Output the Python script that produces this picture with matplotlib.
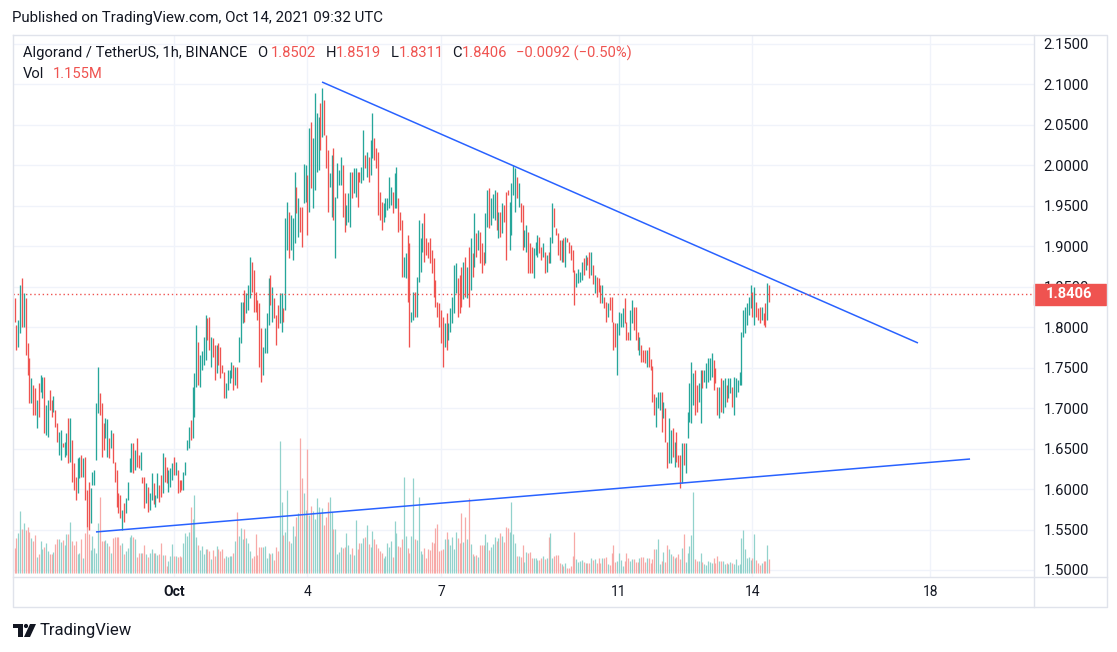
import matplotlib
matplotlib.use("Agg")
import matplotlib.pyplot as plt
import matplotlib.dates as mdates
import matplotlib.transforms as mtransforms
from matplotlib.patches import Rectangle, Circle, Polygon
import pandas as pd

plt.rcParams["font.family"] = ["Roboto", "DejaVu Sans"]

W, H = 1117, 652
UP, DOWN = "#26a69a", "#ef5350"
UP_VOL, DOWN_VOL = "#92d2cc", "#f7a9a7"
TEXT = "#131722"
GRID = "#f0f3fa"
BORDER = "#e0e3eb"
BLUE = "#2962ff"

# ALGO/USDT 1h candles (last bar Oct 14 09:00 UTC)
last_bar = "2021-10-14 09:00"
highs = [
    1.836, 1.803, 1.809, 1.852, 1.861, 1.842, 1.836, 1.781, 1.762, 1.737,
    1.729, 1.725, 1.710, 1.731, 1.741, 1.738, 1.739, 1.704, 1.710, 1.722, 1.710,
    1.715, 1.698, 1.681, 1.670, 1.673, 1.657, 1.658, 1.669, 1.688, 1.688,
    1.661, 1.632, 1.615, 1.638, 1.640, 1.642, 1.638, 1.640, 1.599, 1.609,
    1.601, 1.621, 1.624, 1.706, 1.751, 1.719, 1.706, 1.681, 1.688, 1.687,
    1.663, 1.673, 1.669, 1.633, 1.624, 1.595, 1.593, 1.574, 1.583, 1.589,
    1.609, 1.638, 1.657, 1.657, 1.648, 1.663, 1.642, 1.646, 1.615,
    1.615, 1.608, 1.603, 1.595, 1.620, 1.608, 1.593, 1.620, 1.605, 1.617, 1.645,
    1.640, 1.627, 1.624, 1.626, 1.632, 1.640, 1.633, 1.624, 1.611, 1.611,
    1.621, 1.633, 1.661, 1.677, 1.685, 1.726, 1.743, 1.803, 1.782, 1.766,
    1.770, 1.788, 1.815, 1.811, 1.813, 1.788, 1.787, 1.778, 1.778, 1.781,
    1.776, 1.753, 1.745, 1.731, 1.747, 1.747, 1.757, 1.753, 1.751, 1.751,
    1.788, 1.831, 1.831, 1.846, 1.842, 1.852, 1.887, 1.881, 1.871,
    1.844, 1.834, 1.830, 1.799, 1.776, 1.799, 1.818,
    1.861, 1.865, 1.850, 1.836, 1.815, 1.827, 1.842, 1.842, 1.824, 1.935,
    1.955, 1.942, 1.939, 1.935, 1.992, 1.973, 1.960, 1.949, 1.949, 2.002,
    2.000, 1.988, 2.046, 2.054, 2.034, 2.089, 2.065, 2.060, 2.077, 2.096,
    2.081, 2.038, 2.019, 1.991, 2.013, 2.021, 1.961, 2.003, 1.994, 2.010,
    2.000, 1.966, 1.951, 1.966, 1.992, 1.992, 1.997, 1.997, 1.992, 1.992, 1.998,
    2.044, 2.013, 2.017, 2.010, 2.031, 2.065, 2.034, 2.021, 2.017, 1.967,
    1.955, 1.954, 1.960, 1.960, 1.986,
    1.973, 1.967, 1.991, 1.998, 1.960, 1.942, 1.933, 1.887, 1.892, 1.914,
    1.904, 1.819, 1.844, 1.844, 1.862, 1.933, 1.910, 1.929, 1.941, 1.910, 1.905,
    1.910, 1.895, 1.886, 1.858, 1.831, 1.830, 1.821, 1.813, 1.805, 1.818,
    1.805, 1.824, 1.837, 1.877, 1.879, 1.861, 1.865, 1.874, 1.880, 1.887, 1.874,
    1.899, 1.910, 1.892, 1.941, 1.916, 1.920, 1.918, 1.904, 1.893, 1.941,
    1.970, 1.972, 1.960, 1.965, 1.970, 1.967, 1.942, 1.942, 1.954, 1.951, 1.967,
    1.970, 1.955, 1.978, 2.000, 1.997, 1.986, 1.978,
    1.954, 1.951, 1.920, 1.926, 1.918, 1.904, 1.899, 1.898, 1.905, 1.914,
    1.912, 1.899, 1.904, 1.893, 1.889, 1.893, 1.912, 1.954, 1.947, 1.923,
    1.916, 1.908, 1.908, 1.910, 1.912, 1.910, 1.905, 1.902, 1.895, 1.871,
    1.867, 1.872, 1.868, 1.881, 1.886, 1.889, 1.887, 1.893, 1.893, 1.877, 1.865,
    1.862, 1.861, 1.852, 1.852, 1.837, 1.831, 1.830, 1.837, 1.837, 1.806,
    1.805, 1.805, 1.819, 1.818, 1.824, 1.836, 1.806, 1.794, 1.821, 1.834,
    1.825, 1.825, 1.794, 1.788, 1.778, 1.772, 1.772, 1.772,
    1.775, 1.761, 1.752, 1.718, 1.714, 1.720, 1.720, 1.720, 1.708, 1.700,
    1.658, 1.688, 1.673, 1.675, 1.658, 1.670, 1.642, 1.642, 1.657, 1.657,
    1.657, 1.695, 1.731, 1.757, 1.744, 1.747, 1.729, 1.731, 1.747, 1.747,
    1.747, 1.756, 1.762, 1.762, 1.768, 1.760, 1.750, 1.726, 1.726,
    1.737, 1.735, 1.737, 1.729, 1.737, 1.737, 1.726, 1.739, 1.737, 1.735,
    1.745, 1.794, 1.821, 1.825, 1.830, 1.837, 1.852, 1.844, 1.850, 1.831,
    1.824, 1.825, 1.825, 1.818, 1.830, 1.855, 1.8519,
]
lows = [
    1.806, 1.772, 1.775, 1.793, 1.800, 1.800, 1.766, 1.741, 1.706, 1.706,
    1.692, 1.692, 1.675, 1.689, 1.720, 1.712, 1.669, 1.667, 1.664, 1.698, 1.689,
    1.695, 1.677, 1.658, 1.642, 1.636, 1.652, 1.640, 1.642, 1.632, 1.633,
    1.609, 1.599, 1.587, 1.595, 1.614, 1.615, 1.615, 1.587, 1.553, 1.549,
    1.558, 1.605, 1.605, 1.636, 1.694, 1.692, 1.640, 1.648, 1.663, 1.640,
    1.638, 1.651, 1.632, 1.609, 1.578, 1.570, 1.564, 1.549, 1.559, 1.570,
    1.587, 1.621, 1.621, 1.620, 1.624, 1.627, 1.626, 1.624, 1.607,
    1.577, 1.583, 1.572, 1.574, 1.587, 1.581, 1.578, 1.589, 1.584, 1.590, 1.595,
    1.609, 1.608, 1.596, 1.603, 1.611, 1.617, 1.617, 1.595, 1.596, 1.599,
    1.599, 1.617, 1.648, 1.651, 1.661, 1.663, 1.689, 1.726, 1.729, 1.726,
    1.747, 1.753, 1.760, 1.784, 1.772, 1.751, 1.763, 1.735, 1.743, 1.753,
    1.737, 1.743, 1.713, 1.713, 1.722, 1.731, 1.737, 1.722, 1.729, 1.725,
    1.757, 1.781, 1.805, 1.806, 1.818, 1.821, 1.836, 1.844, 1.819,
    1.819, 1.809, 1.751, 1.732, 1.741, 1.768, 1.768,
    1.803, 1.828, 1.806, 1.811, 1.778, 1.799, 1.805, 1.794, 1.806, 1.821,
    1.895, 1.886, 1.895, 1.883, 1.904, 1.941, 1.911, 1.918, 1.899, 1.954,
    1.955, 1.914, 1.942, 1.972, 1.947, 1.970, 1.992, 1.994, 2.019, 2.035,
    2.038, 1.997, 1.942, 1.973, 1.936, 1.933, 1.886, 1.960, 1.976, 1.976,
    1.936, 1.918, 1.926, 1.930, 1.924, 1.960, 1.966, 1.961, 1.949, 1.980, 1.978,
    1.982, 1.997, 1.985, 1.980, 1.988, 2.009, 2.007, 1.997, 1.939, 1.933,
    1.920, 1.930, 1.936, 1.945, 1.947,
    1.951, 1.941, 1.947, 1.947, 1.918, 1.920, 1.862, 1.862, 1.861, 1.831,
    1.776, 1.806, 1.809, 1.812, 1.812, 1.856, 1.868, 1.893, 1.881, 1.889, 1.885,
    1.879, 1.867, 1.837, 1.825, 1.812, 1.800, 1.781, 1.751, 1.776, 1.772,
    1.784, 1.794, 1.805, 1.818, 1.842, 1.812, 1.818, 1.825, 1.835, 1.837, 1.836,
    1.825, 1.846, 1.862, 1.874, 1.887, 1.895, 1.879, 1.867, 1.877, 1.879,
    1.924, 1.923, 1.926, 1.935, 1.933, 1.920, 1.910, 1.912, 1.916, 1.930, 1.883,
    1.963, 1.895, 1.914, 1.963, 1.942, 1.960, 1.949,
    1.930, 1.895, 1.899, 1.893, 1.867, 1.867, 1.867, 1.861, 1.889, 1.887,
    1.892, 1.883, 1.887, 1.867, 1.868, 1.879, 1.879, 1.904, 1.924, 1.914,
    1.889, 1.883, 1.881, 1.881, 1.874, 1.905, 1.892, 1.883, 1.868, 1.827,
    1.850, 1.855, 1.856, 1.858, 1.865, 1.871, 1.877, 1.861, 1.865, 1.853, 1.842,
    1.837, 1.844, 1.830, 1.830, 1.824, 1.806, 1.813, 1.821, 1.806, 1.772,
    1.776, 1.741, 1.790, 1.800, 1.800, 1.805, 1.784, 1.784, 1.784, 1.805,
    1.797, 1.784, 1.772, 1.766, 1.757, 1.757, 1.756, 1.751,
    1.751, 1.747, 1.707, 1.691, 1.677, 1.700, 1.698, 1.671, 1.688, 1.658,
    1.626, 1.632, 1.632, 1.640, 1.627, 1.633, 1.627, 1.601, 1.607, 1.630,
    1.620, 1.663, 1.683, 1.682, 1.704, 1.692, 1.695, 1.708, 1.682, 1.725,
    1.732, 1.725, 1.732, 1.735, 1.738, 1.722, 1.731, 1.692, 1.688,
    1.695, 1.694, 1.701, 1.708, 1.713, 1.719, 1.701, 1.692, 1.714, 1.720,
    1.729, 1.729, 1.788, 1.793, 1.803, 1.815, 1.824, 1.812, 1.803, 1.812,
    1.809, 1.805, 1.809, 1.803, 1.800, 1.809, 1.8311,
]
# g = close above open, r = close below open
direction = "".join([
    "rrggrgrrrg", "rrgrggrggrr", "grrggrggrg", "rrrggrgrrr", "gggggrrrgg",
    "rgrrrrrgrg", "gggrgrrgr",
    "rgrggrggrrg", "rrgggrgrrr", "ggggrgggrg", "gggrrgrrgr", "rrrggggrgr",
    "gggrgggrr", "rrrrggg",
    "grgrrrggrg", "grgggrgrrg", "grgrggggrg", "rrrggrgggg", "rrgggrggrrg",
    "grgrggrrrr", "rgggg",
    "grggrrrggr", "rggrggggrrr", "rrrrrrrrgr", "gggggrrrgrg", "rgrgrgrrrg",
    "grgggrgrgrr", "rggggrg",
    "rrggrrrggg", "rrgrgrggrr", "rrgrgrrrrr", "ggggrgrrgrg", "rrrgrrgrrr",
    "rggggrrrgg", "rrrgrrrg",
    "rrrrgggrgr", "rggrgrrrgr", "gggggrrggr", "gggggrrrg", "rggrggrggg",
    "gggggggrgr", "rrgrrgr",
])
volume_m = [
    2.06, 2.88, 3.3, 5.16, 3.65, 4.12, 3.57, 3.79, 3.43, 2.88,
    2.66, 3.16, 1.37, 1.59, 2.66, 2.0, 2.2, 2.47, 1.87, 1.59, 1.59,
    1.79, 2.39, 2.83, 2.83, 2.61, 2.75, 2.34, 3.24, 3.24, 4.23,
    2.66, 2.34, 2.66, 1.59, 1.7, 2.8, 1.29, 3.3, 3.79, 3.24, 1.9,
    3.08, 2.06, 1.7, 4.18, 6.32, 2.66, 2.66, 2.75, 2.47, 2.25,
    1.7, 2.88, 2.97, 2.97, 3.02, 2.34, 2.47, 1.59, 1.87, 2.12,
    3.02, 3.16, 2.97, 2.83, 1.37, 1.65, 1.65, 1.65, 2.34, 1.59,
    1.32, 1.65, 2.0, 1.65, 1.65, 1.51, 1.59, 2.53, 1.51, 1.51,
    0.63, 1.04, 1.43, 2.42, 1.43, 1.43, 1.32, 1.43, 1.32, 2.53,
    3.35, 3.08, 3.43, 5.49, 4.45, 6.46, 2.97, 2.34, 1.92, 2.25, 1.6,
    2.0, 2.0, 1.87, 1.18, 1.92, 1.43, 2.25, 2.0, 1.87, 2.0,
    1.29, 1.43, 1.37, 1.43, 1.43, 1.7, 2.66, 5.08, 3.08,
    3.76, 2.8, 3.63, 2.88, 2.47, 1.87, 1.24, 1.43, 3.24, 1.51,
    2.14, 2.2, 2.2, 2.25, 1.24, 1.65, 1.59, 1.7, 1.1, 2.14,
    1.87, 10.9, 5.91, 3.16, 3.43, 6.87, 2.69, 2.47, 3.9, 3.08,
    4.67, 5.0, 11.13, 7.83, 6.65, 5.22, 10.25, 4.81, 5.55, 5.16, 4.5,
    6.18, 5.44, 5.0, 5.36, 3.98, 4.62, 5.91, 6.32, 5.08, 3.63,
    3.63, 1.59, 1.79, 2.2, 2.06, 2.2, 3.35, 2.34, 1.59, 2.06,
    1.51, 4.4, 1.98, 2.53, 2.5, 2.88, 3.02, 3.98, 2.39, 2.14, 3.52,
    2.8, 2.42, 2.06, 1.87, 1.7,
    1.24, 1.43, 2.47, 2.2, 2.66, 1.37, 4.34, 3.3, 2.25, 2.2,
    2.8, 7.97, 3.08, 2.12, 1.7, 3.08, 7.88, 2.83, 2.75, 6.32, 1.8,
    1.59, 2.12, 1.24, 2.0, 1.92, 2.61, 2.47, 3.76, 4.07, 1.87, 1.92,
    1.98, 2.83, 3.43, 2.8, 2.34, 3.02, 2.0, 3.43, 2.88, 2.47,
    5.0, 2.6, 4.62, 2.83, 6.18, 2.42, 1.59, 1.43, 1.51, 1.37, 2.34, 2.3,
    2.34, 3.24, 2.61, 1.92, 2.2, 2.4, 2.97, 2.69, 2.88, 3.35, 3.08,
    2.61, 3.79, 3.71, 3.43, 5.91, 3.24, 2.53, 1.43, 1.43, 1.32,
    2.34, 0.96, 1.79, 1.65, 1.79, 1.24, 1.29, 1.24, 1.1, 1.1,
    1.24, 1.43, 1.15, 1.24, 3.02, 3.35, 1.24, 1.43, 1.51, 1.51,
    0.82, 0.77, 0.6, 0.88, 0.47, 0.47, 0.6, 1.43, 3.43, 1.15, 0.9,
    1.0, 1.1, 0.91, 0.88, 0.88, 0.88, 1.29, 1.1, 1.18, 0.88, 1.24,
    0.88, 1.29, 1.24, 1.37, 0.74, 0.69, 1.65, 2.34, 0.96, 1.04,
    1.7, 1.1, 0.6, 1.04, 1.7, 1.29, 1.04, 1.15, 1.18, 0.96,
    0.96, 1.24, 1.37, 1.37, 0.96, 1.29, 1.29, 0.82, 1.18, 2.0,
    1.98, 2.83, 0.77, 1.02, 1.79, 0.96, 2.34, 1.98, 1.59, 1.43, 1.3,
    1.32, 1.59, 1.15, 2.06, 3.24, 0.96, 1.65, 2.25, 3.16, 6.73,
    1.18, 1.04, 1.04, 1.7, 0.96, 0.74, 0.69, 1.02, 0.91, 0.82,
    1.24, 0.88, 1.43, 1.02, 1.04, 1.02, 0.77, 0.82, 0.77, 0.9,
    0.88, 0.77, 1.18, 0.69, 0.77, 2.88, 3.57, 2.0, 1.24, 1.37,
    1.1, 1.24, 3.24, 1.1, 0.82, 0.69, 0.88, 1.02, 1.02, 2.34,
    1.155,
]
assert len(highs) == len(lows) == len(direction) == len(volume_m)

last_close = 1.8406
price_levels = [1.50, 1.55, 1.60, 1.65, 1.70, 1.75, 1.80, 1.85, 1.90,
                1.95, 2.00, 2.05, 2.10, 2.15]
date_ticks = ["2021-10-01", "2021-10-04", "2021-10-07", "2021-10-11",
              "2021-10-14", "2021-10-18"]
date_labels = ["Oct", "4", "7", "11", "14", "18"]
# drawn trend lines (start, end) as (time, price)
resistance = [("2021-10-04 07:50", 2.103), ("2021-10-17 17:15", 1.7805)]
support = [("2021-09-29 05:55", 1.547), ("2021-10-18 21:20", 1.6371)]

times = mdates.date2num(pd.date_range(end=last_bar, periods=len(highs), freq="h").to_pydatetime())
day0 = mdates.datestr2num("2021-10-01")
xlim = (day0 - 3.618, day0 + 19.326)
ylim = (1.4913, 2.1611)

fig = plt.figure(figsize=(W / 100, H / 100), dpi=100)
rect = [13 / W, 1 - 577 / H, (1034 - 13) / W, (577 - 35) / H]

# grid layer
ax_g = fig.add_axes(rect, zorder=0)
ax_g.set_xlim(*xlim)
ax_g.set_ylim(*ylim)
for d in date_ticks:
    ax_g.axvline(mdates.datestr2num(d), color=GRID, lw=1)
for p in price_levels:
    ax_g.axhline(p, color=GRID, lw=1)
ax_g.axis("off")

# volume layer
ax_v = fig.add_axes(rect, zorder=1)
ax_v.patch.set_visible(False)
ax_v.set_xlim(*xlim)
ax_v.set_ylim(-0.305, 44.4)
vcols = [UP_VOL if c == "g" else DOWN_VOL for c in direction]
ax_v.vlines(times, 0, volume_m, colors=vcols, lw=0.9)
ax_v.axis("off")

# price layer
ax = fig.add_axes(rect, zorder=2)
ax.patch.set_visible(False)
ax.set_xlim(*xlim)
ax.set_ylim(*ylim)
cols = [UP if c == "g" else DOWN for c in direction]
ax.vlines(times, lows, highs, colors=cols, lw=0.95)

for line in (resistance, support):
    xs = [mdates.datestr2num(t) for t, _ in line]
    ys = [p for _, p in line]
    ax.plot(xs, ys, color=BLUE, lw=1.1, solid_capstyle="butt")

ax.axhline(last_close, color=DOWN, lw=1, ls=(0, (1, 2)))

ax.yaxis.tick_right()
ax.set_yticks(price_levels)
ax.set_yticklabels([f"{p:.4f}" for p in price_levels])
ax.tick_params(axis="y", length=0, pad=7, labelsize=10.6, labelcolor=TEXT)
ax.set_xticks([mdates.datestr2num(d) for d in date_ticks])
ax.set_xticklabels(date_labels)
ax.tick_params(axis="x", length=0, pad=6, labelsize=10, labelcolor=TEXT)
ax.get_xticklabels()[0].set_fontweight("bold")
for s in ax.spines.values():
    s.set_visible(False)

# last price tag on the price scale
blend = mtransforms.blended_transform_factory(ax.transAxes, ax.transData)
ax.add_patch(Rectangle((1.0, last_close - 0.013), 72 / 1021, 0.026,
                       transform=blend, color=DOWN, clip_on=False, zorder=5))
ax.text(1.0 + 35 / 1021, last_close, f"{last_close:.4f}", transform=blend,
        ha="center", va="center", color="white", fontsize=10.6,
        fontweight="bold", zorder=6, clip_on=False)

# frame, header and footer in pixel coordinates
ov = fig.add_axes([0, 0, 1, 1], zorder=3)
ov.set_xlim(0, W)
ov.set_ylim(H, 0)
ov.axis("off")
ov.plot([13, 1107, 1107, 13, 13], [35, 35, 607, 607, 35], color=BORDER, lw=1)
ov.plot([1034, 1034], [35, 607], color=BORDER, lw=1)
ov.plot([13, 1107], [577, 577], color=BORDER, lw=1)

ov.text(12, 18, "Published on TradingView.com, Oct 14, 2021 09:32 UTC",
        color=TEXT, fontsize=10.8, va="center", ha="left")
legend_row = [("Algorand / TetherUS, 1h, BINANCE", 23, TEXT),
              ("O", 257, TEXT), ("1.8502", 271, DOWN),
              ("H", 326, TEXT), ("1.8519", 336, DOWN),
              ("L", 391, TEXT), ("1.8311", 399, DOWN),
              ("C", 452, TEXT), ("1.8406", 462, DOWN),
              ("\u22120.0092 (\u22120.50%)", 516, DOWN)]
for txt, x, c in legend_row:
    ov.text(x, 53, txt, color=c, fontsize=10.6, va="center", ha="left")
ov.text(23, 74, "Vol", color=TEXT, fontsize=10.6, va="center", ha="left")
ov.text(53, 74, "1.155M", color=DOWN, fontsize=10.6, va="center", ha="left")

# TradingView logo
ov.add_patch(Polygon([(13, 624), (23, 624), (23, 637), (18, 637), (18, 628), (13, 628)],
                     closed=True, color=TEXT, lw=0))
ov.add_patch(Circle((26, 626), 2.1, color=TEXT, lw=0))
ov.add_patch(Polygon([(30, 624), (36, 624), (30, 637), (24, 637)], closed=True,
                     color=TEXT, lw=0))
ov.text(40, 631, "TradingView", color=TEXT, fontsize=12, va="center", ha="left")

fig.savefig("out.png", dpi=100, facecolor="white")
